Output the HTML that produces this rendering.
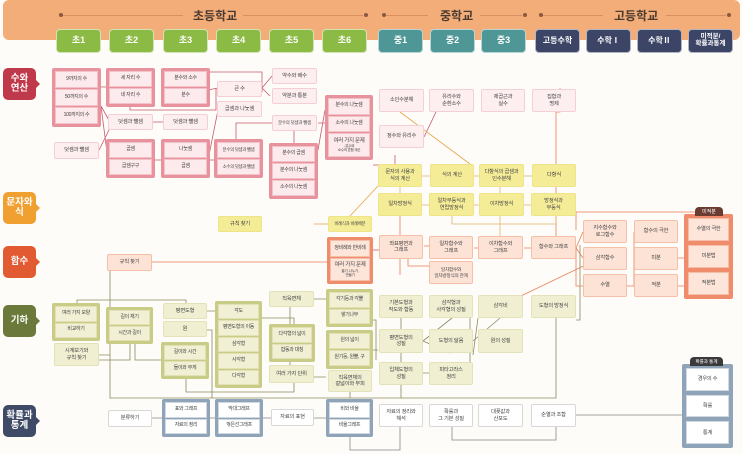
<!DOCTYPE html>
<html><head><meta charset="utf-8"><style>
*{margin:0;padding:0;box-sizing:border-box}
body{width:743px;height:454px;background:#fdfcf8;position:relative;overflow:hidden;font-family:"Liberation Sans","Noto Sans CJK KR",sans-serif;color:#444}
.hd{position:absolute;top:0;height:40px;background:#f3ad78;border-radius:6px}
.ht{position:absolute;top:7px;font-size:12px;font-weight:bold;color:#4a3a30}
.dl{position:absolute;top:15px;height:1px;background:#d99060}
.dot{position:absolute;top:13px;width:4px;height:4px;border-radius:2px;background:#8a5a40}
.tab{position:absolute;top:29px;height:24px;border-radius:4px;color:#fff;font-weight:bold;font-size:9px;display:flex;align-items:center;justify-content:center;text-align:center;line-height:1.05;border:1px solid rgba(255,255,255,.6)}
.gr{background:#8cbb45}.te{background:#4f9696}.nv{background:#3c4566}
.lab{position:absolute;left:3px;width:33px;height:32px;border-radius:5px;color:#fff;font-weight:bold;font-size:9.5px;display:flex;align-items:center;justify-content:center;text-align:center;line-height:1.05}
.lab:after{content:"";position:absolute;right:-4px;top:12px;border-left:4px solid;border-top:4px solid transparent;border-bottom:4px solid transparent;border-left-color:inherit}
.b{position:absolute;display:flex;align-items:center;justify-content:center;text-align:center;font-size:5.3px;line-height:1.2;border-radius:2px;z-index:2;letter-spacing:-0.2px}
.lp{background:#fdeef0;border:1px solid #f6cfd4}
.y{background:#f5ec98;border:1px solid #f0e488}
.lo{background:#fde3d6;border:1px solid #f6c0a8}
.lv{background:#f0efd2;border:1px solid #e4e2b8}
.w{background:#fff;border:1px solid #d8d8d8}
.g{position:absolute;display:flex;flex-direction:column;border-radius:2px;z-index:2;padding:1px;gap:1px}
.g div{flex:1;display:flex;align-items:center;justify-content:center;text-align:center;font-size:5px;line-height:1.15;border:1px solid;white-space:nowrap;letter-spacing:-0.3px}
.gp{border:2.5px solid #e8929e;background:#e8929e}.gp div{background:#fdeaec;border-color:#f3c2c8}
.go{border:2.5px solid #ee8c6c;background:#ee8c6c}.go div{background:#fde5da;border-color:#f5bea8}
.gv{border:2.5px solid #c9cc86;background:#c9cc86}.gv div{background:#f1f0d4;border-color:#e2e0b4}
.gb{border:2.5px solid #8fa4b8;background:#8fa4b8}.gb div{background:#fff;border-color:#d0d8e0}
.tag{position:absolute;height:9px;border-radius:4px 4px 0 0;color:#fff;font-size:5px;display:flex;align-items:center;justify-content:center;z-index:3}
svg{position:absolute;left:0;top:0;z-index:1}
</style></head><body>
<div class="hd" style="left:3px;width:737px"></div>
<div class="dot" style="left:59px"></div><div class="dl" style="left:63px;width:120px"></div>
<div class="dl" style="left:243px;width:120px"></div><div class="dot" style="left:364px"></div>
<div class="ht" style="left:193px">초등학교</div>
<div class="dot" style="left:382px"></div><div class="dl" style="left:386px;width:42px"></div>
<div class="dl" style="left:480px;width:42px"></div><div class="dot" style="left:523px"></div>
<div class="ht" style="left:440px">중학교</div>
<div class="dot" style="left:539px"></div><div class="dl" style="left:543px;width:60px"></div>
<div class="dl" style="left:666px;width:60px"></div><div class="dot" style="left:727px"></div>
<div class="ht" style="left:614px">고등학교</div>
<div class="tab gr" style="left:56px;width:45px">초1</div>
<div class="tab gr" style="left:109px;width:45px">초2</div>
<div class="tab gr" style="left:163px;width:45px">초3</div>
<div class="tab gr" style="left:216px;width:45px">초4</div>
<div class="tab gr" style="left:269px;width:45px">초5</div>
<div class="tab gr" style="left:322px;width:45px">초6</div>
<div class="tab te" style="left:378px;width:45px">중1</div>
<div class="tab te" style="left:430px;width:45px">중2</div>
<div class="tab te" style="left:481px;width:45px">중3</div>
<div class="tab nv" style="left:535px;width:45px;font-size:8px">고등수학</div>
<div class="tab nv" style="left:586px;width:45px;font-size:8px">수학Ⅰ</div>
<div class="tab nv" style="left:637px;width:45px;font-size:8px">수학Ⅱ</div>
<div class="tab nv" style="left:688px;width:45px;font-size:6.5px">미적분/<br>확률과통계</div>

<div class="lab" style="top:68px;background:#c0394b;border-color:#c0394b">수와<br>연산</div>
<div class="lab" style="top:192px;background:#f0a030;border-color:#f0a030">문자와<br>식</div>
<div class="lab" style="top:246px;background:#e25a32;border-color:#e25a32">함수</div>
<div class="lab" style="top:305px;background:#6b7a3a;border-color:#6b7a3a">기하</div>
<div class="lab" style="top:405px;background:#3e4a66;border-color:#3e4a66">확률과<br>통계</div>

<svg width="743" height="454" fill="none" stroke-width="0.8">
<g stroke="#c95a6e">
<path d="M101 87H106M101 106L110 122M99 150L110 128M101 106L108 160M153 122H163M155 160H161M208 90L218 88M208 160L216 160M262 88L272 76M262 88L270 96M208 72H262V92M130 107V110H216V88"/>
<path d="M208 160L218 110M236 139V123H272M294 131V143M318 150L325 110M318 123H325M373 165H395V155M424 137L436 112M373 250H400V235"/>
</g>
<g stroke="#e9a24a"><path d="M400 112L470 164M314 224H328M350 216L378 186"/></g>
<g stroke="#ec7a54">
<path d="M152 262H327M424 246H429M474 248H478M524 248H531M576 248L583 232M576 248L583 258M576 248V286H583M627 286H634V232M576 230V212H700M656 232V220M678 258H684M678 286H684M710 243V249M710 270V275M627 258L600 258L500 306M408 259V266H429M400 216V275M556 236V112H560V88"/>
</g>
<g stroke="#e0b070"><path d="M422 176H430M474 176H479M524 176H532M400 187V193M422 205H429M474 205H479M524 205H531M500 187V193M500 216V236M452 216V224H556V216"/></g>
<g stroke="#8a8a60">
<path d="M77 303V300H186V303M99 355H110V260M99 360H130V344M135 344V360H161M207 311H215M262 318H294V324M314 299H326M186 379V392H294V383M207 330H212V398H350V385M350 383H372M290 307V377H326M373 350H378M373 320H376V360M401 318V329M401 353V362M423 341L452 318M423 341L450 353M473 341L500 318M401 385V398M423 373H429M473 355L478 318M110 353V398H556V318M423 373H470V318"/>
<path d="M576 320H580V245"/>
</g>
<g stroke="#888"><path d="M152 418H162M210 418H215M263 418H271M314 418H326M350 437V450H400V427M452 427V440H556V427M576 415H682M710 392V396M710 420V424"/></g>
</svg>

<div class="g gp" style="left:52px;top:68px;width:49px;height:59px"><div>9까지의 수</div><div>50까지의 수</div><div>100까지의 수</div></div>
<div class="g gp" style="left:106px;top:68px;width:49px;height:39px"><div>세 자리 수</div><div>네 자리 수</div></div>
<div class="b lp" style="left:108px;top:114px;width:45px;height:16px">덧셈과 뺄셈</div>
<div class="b lp" style="left:54px;top:142px;width:45px;height:17px">덧셈과 뺄셈</div>
<div class="g gp" style="left:106px;top:139px;width:49px;height:39px"><div>곱셈</div><div>곱셈구구</div></div>
<div class="g gp" style="left:161px;top:68px;width:49px;height:39px"><div>분수와 소수</div><div>분수</div></div>
<div class="b lp" style="left:163px;top:114px;width:45px;height:16px">덧셈과 뺄셈</div>
<div class="g gp" style="left:161px;top:139px;width:49px;height:39px"><div>나눗셈</div><div>곱셈</div></div>
<div class="b lp" style="left:217px;top:81px;width:45px;height:16px">큰 수</div>
<div class="b lp" style="left:217px;top:101px;width:45px;height:16px">곱셈과 나눗셈</div>
<div class="g gp" style="left:214px;top:139px;width:49px;height:39px"><div style="font-size:4.4px">분수의 덧셈과 뺄셈</div><div style="font-size:4.4px">소수의 덧셈과 뺄셈</div></div>
<div class="b lp" style="left:272px;top:68px;width:45px;height:16px">약수와 배수</div>
<div class="b lp" style="left:272px;top:88px;width:45px;height:16px">약분과 통분</div>
<div class="b lp" style="left:272px;top:115px;width:45px;height:16px;font-size:4.4px;white-space:nowrap">분수의 덧셈과 뺄셈</div>
<div class="g gp" style="left:269px;top:143px;width:49px;height:56px"><div>분수의 곱셈</div><div>분수의 나눗셈</div><div>소수의 나눗셈</div></div>
<div class="g gp" style="left:325px;top:95px;width:48px;height:65px"><div>분수의 나눗셈</div><div>소수의 나눗셈</div><div style="flex:1.5;flex-direction:column;font-size:5.5px">여러 가지 문제<span style="font-size:3.6px">- 분수와<br>소수의 혼합 계산</span></div></div>
<div class="b lp" style="left:379px;top:89px;width:45px;height:23px">소인수분해</div>
<div class="b lp" style="left:429px;top:89px;width:45px;height:23px">유리수와<br>순환소수</div>
<div class="b lp" style="left:481px;top:89px;width:44px;height:23px">제곱근과<br>실수</div>
<div class="b lp" style="left:532px;top:89px;width:44px;height:23px">집합과<br>명제</div>
<div class="b lp" style="left:379px;top:125px;width:45px;height:23px">정수와 유리수</div>

<div class="b y" style="left:378px;top:164px;width:44px;height:23px">문자의 사용과<br>식의 계산</div>
<div class="b y" style="left:430px;top:164px;width:44px;height:23px">식의 계산</div>
<div class="b y" style="left:479px;top:164px;width:45px;height:23px">다항식의 곱셈과<br>인수분해</div>
<div class="b y" style="left:532px;top:164px;width:44px;height:23px">다항식</div>
<div class="b y" style="left:378px;top:193px;width:44px;height:23px">일차방정식</div>
<div class="b y" style="left:429px;top:193px;width:45px;height:23px">일차부등식과<br>연립방정식</div>
<div class="b y" style="left:479px;top:193px;width:45px;height:23px">이차방정식</div>
<div class="b y" style="left:531px;top:193px;width:45px;height:23px">방정식과<br>부등식</div>
<div class="b y" style="left:218px;top:216px;width:44px;height:16px">규칙 찾기</div>
<div class="b y" style="left:328px;top:216px;width:44px;height:16px;font-size:4.3px;white-space:nowrap">비례식과 비례배분</div>

<div class="b lo" style="left:107px;top:254px;width:45px;height:17px">규칙 찾기</div>
<div class="g go" style="left:327px;top:237px;width:46px;height:47px"><div>정비례와 반비례</div><div style="flex:1.4;flex-direction:column;font-size:5.5px">여러 가지 문제<span style="font-size:3.6px">옮기, 나누기,<br>만들기</span></div></div>
<div class="b lo" style="left:379px;top:235px;width:44px;height:24px">좌표평면과<br>그래프</div>
<div class="b lo" style="left:429px;top:236px;width:44px;height:23px">일차함수와<br>그래프</div>
<div class="b lo" style="left:429px;top:261px;width:44px;height:23px;font-size:4.6px">일차함수와<br>일차방정식의 관계</div>
<div class="b lo" style="left:478px;top:236px;width:45px;height:23px">이차함수와<br>그래프</div>
<div class="b lo" style="left:531px;top:236px;width:45px;height:23px">함수와 그래프</div>
<div class="b lo" style="left:583px;top:220px;width:44px;height:23px">지수함수와<br>로그함수</div>
<div class="b lo" style="left:583px;top:247px;width:44px;height:23px">삼각함수</div>
<div class="b lo" style="left:583px;top:274px;width:44px;height:23px">수열</div>
<div class="b lo" style="left:634px;top:220px;width:44px;height:23px">함수의 극한</div>
<div class="b lo" style="left:634px;top:247px;width:44px;height:23px">미분</div>
<div class="b lo" style="left:634px;top:274px;width:44px;height:23px">적분</div>
<div class="tag" style="left:695px;top:207px;width:28px;background:#6a3b30">미적분</div>
<div class="g go" style="left:684px;top:214px;width:49px;height:85px;gap:4px;padding:2px"><div style="font-size:5.3px">수열의 극한</div><div style="font-size:5.3px">미분법</div><div style="font-size:5.3px">적분법</div></div>

<div class="b lv" style="left:269px;top:291px;width:45px;height:16px">직육면체</div>
<div class="g gv" style="left:52px;top:303px;width:48px;height:38px"><div>여러 가지 모양</div><div>비교하기</div></div>
<div class="b lv" style="left:54px;top:343px;width:45px;height:23px">시계보기와<br>규칙 찾기</div>
<div class="g gv" style="left:106px;top:307px;width:47px;height:37px"><div>길이 재기</div><div>시간과 길이</div></div>
<div class="b lv" style="left:163px;top:303px;width:44px;height:16px">평면도형</div>
<div class="b lv" style="left:163px;top:321px;width:44px;height:16px">원</div>
<div class="g gv" style="left:161px;top:342px;width:48px;height:37px"><div>길이와 시간</div><div>들이와 무게</div></div>
<div class="g gv" style="left:215px;top:301px;width:47px;height:87px"><div>각도</div><div>평면도형의 이동</div><div>삼각형</div><div>사각형</div><div>다각형</div></div>
<div class="g gv" style="left:269px;top:324px;width:46px;height:38px"><div>다각형의 넓이</div><div>합동과 대칭</div></div>
<div class="b lv" style="left:269px;top:365px;width:45px;height:18px">여러 가지 단위</div>
<div class="g gv" style="left:326px;top:289px;width:47px;height:38px"><div>각기둥과 각뿔</div><div>쌓기나무</div></div>
<div class="g gv" style="left:326px;top:330px;width:47px;height:39px"><div>원의 넓이</div><div>원기둥, 원뿔, 구</div></div>
<div class="b lv" style="left:328px;top:370px;width:44px;height:22px">직육면체의<br>겉넓이와 부피</div>
<div class="b lv" style="left:379px;top:295px;width:44px;height:23px">기본도형과<br>작도와 합동</div>
<div class="b lv" style="left:429px;top:295px;width:44px;height:23px">삼각형과<br>사각형의 성질</div>
<div class="b lv" style="left:478px;top:295px;width:45px;height:23px">삼각비</div>
<div class="b lv" style="left:531px;top:295px;width:45px;height:23px">도형의 방정식</div>
<div class="b lv" style="left:379px;top:329px;width:44px;height:24px">평면도형의<br>성질</div>
<div class="b lv" style="left:429px;top:329px;width:44px;height:24px">도형의 닮음</div>
<div class="b lv" style="left:478px;top:329px;width:45px;height:24px">원의 성질</div>
<div class="b lv" style="left:379px;top:362px;width:44px;height:23px">입체도형의<br>성질</div>
<div class="b lv" style="left:429px;top:362px;width:44px;height:23px">피타고라스<br>정리</div>

<div class="b w" style="left:108px;top:410px;width:44px;height:17px">분류하기</div>
<div class="g gb" style="left:162px;top:399px;width:48px;height:38px"><div>표와 그래프</div><div>자료의 정리</div></div>
<div class="g gb" style="left:215px;top:399px;width:48px;height:38px"><div>막대그래프</div><div>꺾은선그래프</div></div>
<div class="b w" style="left:271px;top:409px;width:43px;height:17px">자료의 표현</div>
<div class="g gb" style="left:326px;top:399px;width:47px;height:38px"><div>비와 비율</div><div>비율그래프</div></div>
<div class="b w" style="left:379px;top:404px;width:44px;height:23px">자료의 정리와<br>해석</div>
<div class="b w" style="left:429px;top:404px;width:44px;height:23px">확률과<br>그 기본 성질</div>
<div class="b w" style="left:478px;top:404px;width:45px;height:23px">대푯값과<br>산포도</div>
<div class="b w" style="left:531px;top:404px;width:45px;height:23px">순열과 조합</div>
<div class="tag" style="left:690px;top:357px;width:33px;background:#3a3a3a;font-size:4.5px">확률과 통계</div>
<div class="g gb" style="left:682px;top:364px;width:51px;height:84px;gap:4px;padding:2px"><div style="font-size:5.3px">경우의 수</div><div style="font-size:5.3px">확률</div><div style="font-size:5.3px">통계</div></div>
</body></html>
